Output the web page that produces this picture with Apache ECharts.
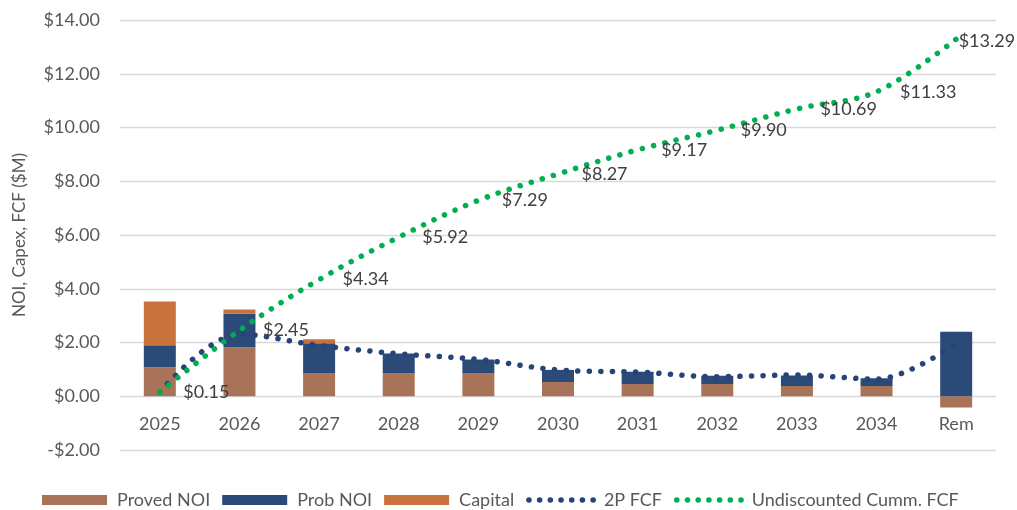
<!DOCTYPE html>
<html>
<head>
<meta charset="utf-8">
<script src="https://cdn.jsdelivr.net/npm/echarts@6/dist/echarts.min.js"></script>
<style>
  html, body { margin: 0; padding: 0; background: #fff; }
  #chart { width: 1017px; height: 510px; }
</style>
</head>
<body>
<div id="chart"></div>
<script>
// categories and values ($M)
const years = ['2025', '2026', '2027', '2028', '2029', '2030', '2031', '2032', '2033', '2034', 'Rem'];
const provedNoi = [1.08, 1.82, 0.85, 0.85, 0.85, 0.53, 0.46, 0.46, 0.38, 0.38, -0.42];
const probNoi = [0.82, 1.26, 1.12, 0.74, 0.52, 0.45, 0.45, 0.30, 0.39, 0.29, 2.40];
const capital = [1.63, 0.15, 0.15, 0, 0, 0, 0, 0, 0, 0, 0];
const fcf2p = [0.15, 2.30, 1.89, 1.58, 1.37, 0.98, 0.90, 0.73, 0.79, 0.64, 1.96];
const cummFcf = [0.15, 2.45, 4.34, 5.92, 7.29, 8.27, 9.17, 9.90, 10.69, 11.33, 13.29];
const yTicks = [-2, 0, 2, 4, 6, 8, 10, 12, 14];

// last label was pulled in by hand so it stays inside the chart
const labelNudge = { 'Rem': [-21, 2] };

const FONT = 'Lato, "Open Sans", sans-serif';
const money = v => (v < 0 ? '-$' : '$') + Math.abs(v).toFixed(2);

const dotted = (color, gap) => ({ color: color, width: 5.5, type: [0.1, gap || 11.5], cap: 'round' });
const hidden = { color: 'rgba(0,0,0,0)' };

const GRID_TOP = 20, GRID_BOTTOM = 60, CHART_H = 510;
const yMin = yTicks[0], yMax = yTicks[yTicks.length - 1];
// category labels sit by the zero line like Excel's do
const zeroShift = -(0 - yMin) / (yMax - yMin) * (CHART_H - GRID_TOP - GRID_BOTTOM);

const chart = echarts.init(document.getElementById('chart'));

const option = {
  backgroundColor: '#fff',
  animation: false,
  textStyle: { fontFamily: FONT },
  grid: { left: 120, right: 21, top: GRID_TOP, bottom: GRID_BOTTOM, containLabel: false },
  legend: {
    bottom: -4,
    left: 37,
    itemWidth: 65,
    itemHeight: 10,
    itemGap: 12,
    textStyle: { fontFamily: FONT, fontSize: 18, color: '#595959', padding: [0, 0, 0, 5] },
    data: [
      { name: 'Proved NOI', icon: 'rect' },
      { name: 'Prob NOI', icon: 'rect' },
      { name: 'Capital', icon: 'rect' },
      { name: '2P FCF', lineStyle: dotted('#264478', 10.6), itemStyle: hidden },
      { name: 'Undiscounted Cumm. FCF', lineStyle: dotted('#00B050', 10.6), itemStyle: hidden }
    ]
  },
  xAxis: {
    type: 'category',
    data: years,
    boundaryGap: true,
    offset: zeroShift,
    axisLine: { show: false, onZero: false },
    axisTick: { show: false },
    axisLabel: { color: '#595959', fontSize: 18, fontFamily: FONT, margin: 19 },
    splitLine: { show: false }
  },
  yAxis: {
    type: 'value',
    min: yMin,
    max: yMax,
    interval: 2,
    name: 'NOI, Capex, FCF ($M)',
    nameLocation: 'middle',
    nameGap: 92,
    nameRotate: 90,
    nameTextStyle: { color: '#595959', fontSize: 17, fontFamily: FONT },
    axisLine: { show: false },
    axisTick: { show: false },
    axisLabel: { color: '#595959', fontSize: 18, fontFamily: FONT, margin: 20, formatter: money },
    splitLine: { lineStyle: { color: '#D9D9D9', width: 1.3 } }
  },
  series: [
    {
      name: 'Proved NOI', type: 'bar', stack: 'noi', barWidth: 32,
      itemStyle: { color: '#A9735A' }, data: provedNoi, z: 2
    },
    {
      name: 'Prob NOI', type: 'bar', stack: 'noi', barWidth: 32,
      itemStyle: { color: '#2C4A78' }, data: probNoi, z: 2
    },
    {
      name: 'Capital', type: 'bar', stack: 'noi', barWidth: 32,
      itemStyle: { color: '#C9733C' }, data: capital, z: 2
    },
    {
      name: '2P FCF', type: 'line', smooth: 0.35,
      symbol: 'circle', symbolSize: 1, showSymbol: true,
      itemStyle: hidden,
      lineStyle: dotted('#264478'),
      data: fcf2p, z: 4
    },
    {
      name: 'Undiscounted Cumm. FCF', type: 'line', smooth: 0.35,
      symbol: 'circle', symbolSize: 1, showSymbol: true,
      itemStyle: hidden,
      lineStyle: dotted('#00B050'),
      label: {
        show: true, position: 'right', distance: 23,
        color: '#404040', fontSize: 18, fontFamily: FONT,
        formatter: p => money(p.value)
      },
      data: cummFcf.map((v, i) => {
        const n = labelNudge[years[i]];
        return n ? { value: v, label: { offset: n } } : v;
      }),
      z: 5
    }
  ]
};

chart.setOption(option);
</script>
</body>
</html>
